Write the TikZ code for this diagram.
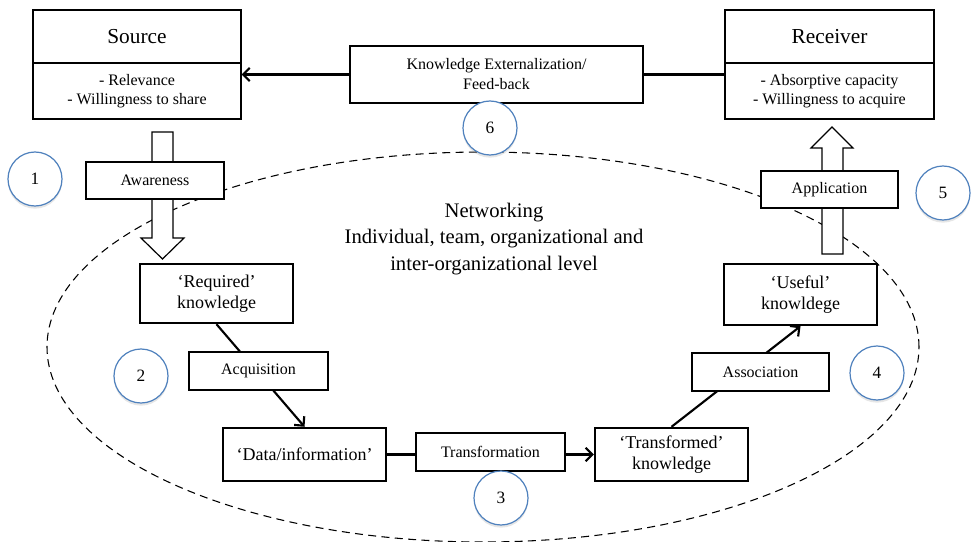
\documentclass[tikz,border=0pt]{standalone}
\usepackage{fontspec}
\setmainfont{Liberation Serif}
\usepackage{tikz}
\usetikzlibrary{arrows.meta}
\usetikzlibrary{shadows}
\definecolor{ringblue}{RGB}{79,129,189}

\tikzset{
	headbox/.style={draw,line width=1.8pt,fill=white,minimum width=156pt,minimum height=39.75pt,font=\fontsize{16}{19}\selectfont},
	bodybox/.style={draw,line width=0.8pt,fill=white,minimum width=156pt,minimum height=42pt,align=center,font=\fontsize{12}{14.25}\selectfont},
	stagebox/.style={draw,line width=1.8pt,fill=white,minimum width=114.75pt,align=center,font=\fontsize{13.5}{16}\selectfont},
	actbox/.style={draw,line width=0.8pt,fill=white,minimum height=28.5pt,align=center,font=\fontsize{12}{15}\selectfont},
	stepnum/.style={circle,draw=ringblue,line width=0.9pt,fill=white,minimum size=40.5pt,inner sep=0pt,font=\fontsize{13}{15}\selectfont,drop shadow={opacity=0.2,shadow xshift=0pt,shadow yshift=-2pt}},
	flow/.style={line width=1.6pt,-{Straight Barb[length=5pt,width=10pt]}},
	blockarrow/.style={draw,line width=0.9pt,fill=white}
}

\begin{document}
\begin{tikzpicture}[x=0.75pt,y=-0.75pt]
	\useasboundingbox (0,0) rectangle (972,542);
	
	% networking level
	\draw [dashed,dash pattern=on 6pt off 4pt,line width=0.8pt] (483,347) ellipse [x radius=327pt,y radius=146.25pt];
	
	\node [bodybox] (srcbody) at (137,91) {- Relevance\\- Willingness to share};
	\node [headbox] (src) at (137,36.5) {Source};
	\node [bodybox,minimum width=156.75pt] (rcvbody) at (829.5,91) {- Absorptive capacity\\- Willingness to acquire};
	\node [headbox,minimum width=156.75pt] (rcv) at (829.5,36.5) {Receiver};
	
	\draw[blockarrow] (152,132)--(173,132)--(173,238)--(184,238)--(162.5,259)--(141,238)--(152,238)--cycle;
	\draw[blockarrow] (822,254)--(843,254)--(843,148)--(853,148)--(832,127)--(811,148)--(822,148)--cycle;
	
	\node [stagebox,minimum height=44.25pt] (req) at (216.5,293.5) {‘Required’\\knowledge};
	\node [stagebox,minimum width=122.25pt,minimum height=39.75pt] (data) at (304.5,454.5) {‘Data/information’};
	\node [stagebox,minimum height=39.75pt] (trans) at (671.5,454.5) {‘Transformed’\\knowledge};
	\node [stagebox,minimum height=45.75pt] (useful) at (800.5,294.5) {‘Useful’\\knowldege};
	
	\draw [flow] (req.south) -- (data.north);
	\draw [flow] (data.east) -- (trans.west);
	\draw [flow] (trans.north) -- (useful.south);
	\draw [flow] (rcvbody.west |- 0,74.5) -- (srcbody.east |- 0,74.5);
	
	\node [actbox,minimum width=219.75pt,minimum height=42.75pt] (fb) at (496.5,74.5) {Knowledge Externalization/\\Feed-back};
	\node [actbox,minimum width=103.5pt,minimum height=27.75pt] (aware) at (155,180.5) {Awareness};
	\node [actbox,minimum width=104.25pt] (acq) at (258.5,371) {Acquisition};
	\node [actbox,minimum width=111.75pt] (transf) at (490.5,452) {Transformation};
	\node [actbox,minimum width=102.75pt] (assoc) at (760.5,372) {Association};
	\node [actbox,minimum width=102.75pt,minimum height=27.75pt] (appl) at (829.5,189.5) {Application};
	
	\node [stepnum] (n1) at (35,179) {1};
	\node [stepnum] (n2) at (141,376) {2};
	\node [stepnum] (n3) at (501,498) {3};
	\node [stepnum] (n4) at (877,373) {4};
	\node [stepnum] (n5) at (943,193) {5};
	\node [stepnum] (n6) at (490,128) {6};
	
	\node [align=center,font=\fontsize{15.5}{20}\selectfont] (net) at (494,239) {Networking\\Individual, team, organizational and\\inter-organizational level};
	
\end{tikzpicture}
\end{document}
